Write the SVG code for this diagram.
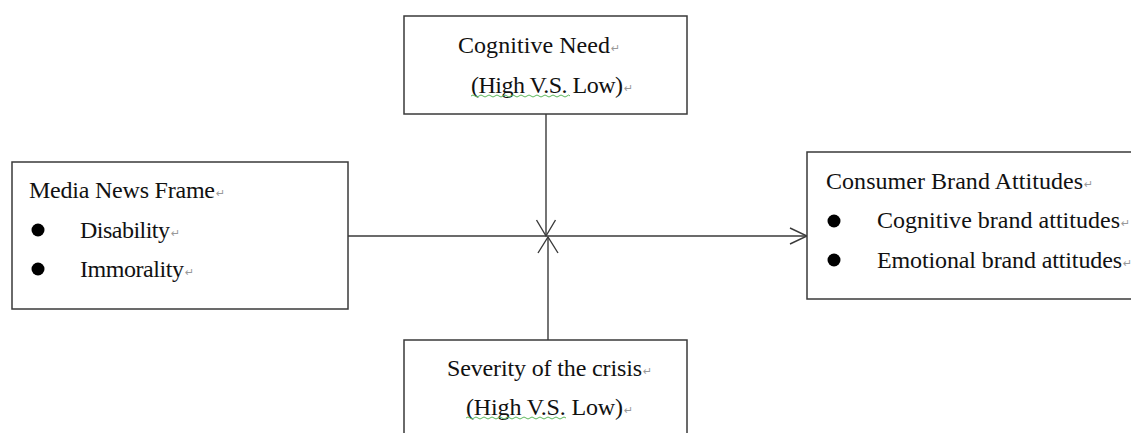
<svg xmlns="http://www.w3.org/2000/svg" width="1131" height="433" viewBox="0 0 1131 433">
<style>
.box{fill:#fff;stroke:#3a3a3a;stroke-width:1.5}
.t{font-family:"Liberation Serif","Times New Roman",serif;font-size:24px;fill:#111}
.rm{font-family:"DejaVu Sans",sans-serif;font-size:11px;fill:#999}
.ln{fill:none;stroke:#3a3a3a;stroke-width:1.4}
.sq{fill:none;stroke:#5cb85c;stroke-width:1}
.bul{fill:#000}
</style>
<rect width="1131" height="433" fill="#fff"/>
<g id="connectors">
<line class="ln" x1="546" y1="114" x2="546" y2="236"/>
<polyline class="ln" points="536.5,220 546,236 555.5,220"/>
<line class="ln" x1="548" y1="340" x2="548" y2="237"/>
<polyline class="ln" points="538,253 548,237 558,253"/>
<line class="ln" x1="348" y1="236" x2="807" y2="236"/>
<polyline class="ln" points="790,228 807,236 790,244"/>
</g>
<g id="cognitive-need">
<rect class="box" x="404" y="16" width="283" height="98"/>
<text class="t" x="458" y="53" textLength="152" lengthAdjust="spacing">Cognitive Need</text>
<text class="rm" x="611" y="52">↵</text>
<text class="t" x="471" y="93" textLength="152" lengthAdjust="spacing">(High V.S. Low)</text>
<text class="rm" x="624" y="92">↵</text>
<path class="sq" d="M471,96 q2,-2 4,0 t4,0 t4,0 t4,0 t4,0 t4,0 t4,0 t4,0 t4,0 t4,0 t4,0 t4,0 t4,0 t4,0 t4,0 t4,0 t4,0 t4,0 t4,0 t4,0 t4,0 t4,0 t4,0 t4,0 t3,0"/>
</g>
<g id="media-news-frame">
<rect class="box" x="12" y="162" width="336" height="147"/>
<text class="t" x="29" y="198" textLength="186" lengthAdjust="spacing">Media News Frame</text>
<text class="rm" x="216" y="197">↵</text>
<circle class="bul" cx="38" cy="230" r="6.5"/>
<text class="t" x="80" y="238" textLength="90" lengthAdjust="spacing">Disability</text>
<text class="rm" x="171" y="237">↵</text>
<circle class="bul" cx="38" cy="269" r="6.5"/>
<text class="t" x="80" y="277" textLength="104" lengthAdjust="spacing">Immorality</text>
<text class="rm" x="185" y="276">↵</text>
</g>
<g id="consumer-brand-attitudes">
<rect class="box" x="807" y="152" width="340" height="147"/>
<text class="t" x="826" y="189" textLength="257" lengthAdjust="spacing">Consumer Brand Attitudes</text>
<text class="rm" x="1084" y="188">↵</text>
<circle class="bul" cx="834" cy="221" r="6.5"/>
<text class="t" x="877" y="228" textLength="243" lengthAdjust="spacing">Cognitive brand attitudes</text>
<text class="rm" x="1121" y="227">↵</text>
<circle class="bul" cx="834" cy="260" r="6.5"/>
<text class="t" x="877" y="268" textLength="245" lengthAdjust="spacing">Emotional brand attitudes</text>
<text class="rm" x="1123" y="267">↵</text>
</g>
<g id="severity">
<rect class="box" x="404" y="340" width="283" height="110"/>
<text class="t" x="447" y="376" textLength="195" lengthAdjust="spacing">Severity of the crisis</text>
<text class="rm" x="643" y="375">↵</text>
<text class="t" x="466" y="415" textLength="157" lengthAdjust="spacing">(High V.S. Low)</text>
<text class="rm" x="624" y="414">↵</text>
<path class="sq" d="M466,418 q2,-2 4,0 t4,0 t4,0 t4,0 t4,0 t4,0 t4,0 t4,0 t4,0 t4,0 t4,0 t4,0 t4,0 t4,0 t4,0 t4,0 t4,0 t4,0 t4,0 t4,0 t4,0 t4,0 t4,0 t4,0 t4,0"/>
</g>
</svg>
